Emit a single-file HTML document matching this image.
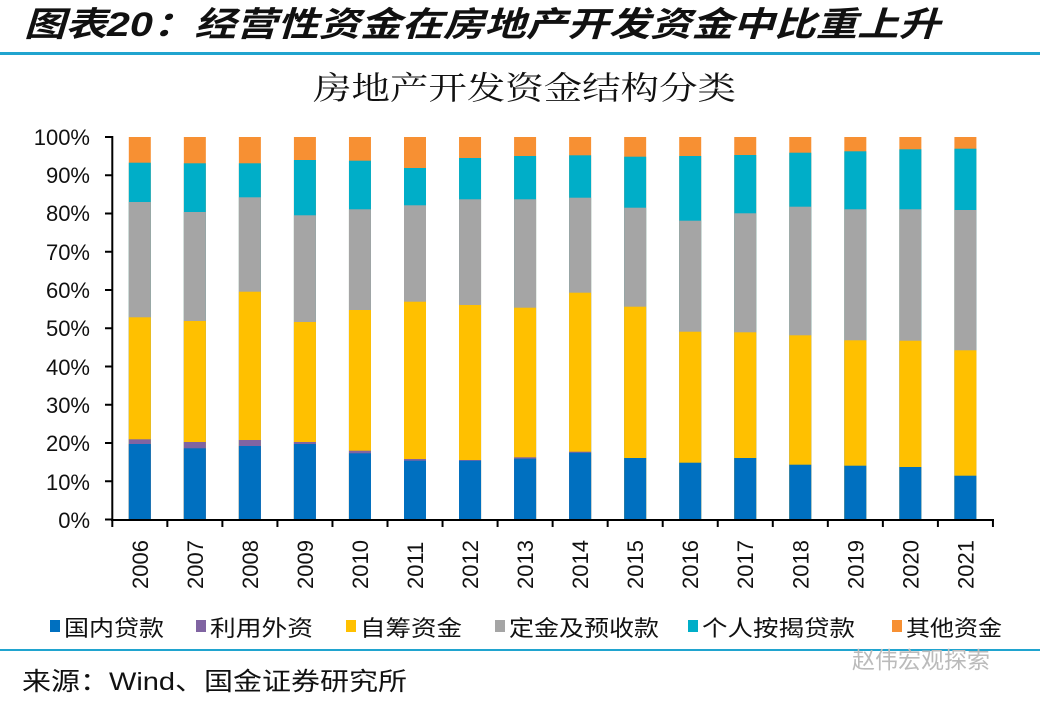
<!DOCTYPE html>
<html><head><meta charset="utf-8"><style>
html,body{margin:0;padding:0;background:#fff;}
svg{display:block;}
text{font-family:"Liberation Sans","Noto Sans CJK SC",sans-serif;}
.o{fill:#f79033}.t{fill:#00aec8}.g{fill:#a5a5a5}.y{fill:#ffc000}.p{fill:#8064a2}.b{fill:#0070c0}
</style></head><body>
<svg width="1040" height="706" xmlns="http://www.w3.org/2000/svg">
<text x="24" y="36" font-size="34" font-weight="bold" font-style="italic" fill="#111" textLength="916" lengthAdjust="spacingAndGlyphs">图表20：经营性资金在房地产开发资金中比重上升</text>
<rect x="0" y="52" width="1040" height="3" fill="#20a4cf"/>
<text x="313" y="99" font-size="32" fill="#111" textLength="423" lengthAdjust="spacingAndGlyphs" style="font-family:'Noto Serif CJK SC','Noto Sans CJK SC',serif">房地产开发资金结构分类</text>

<g>
<g transform="translate(128.8,0)"><rect class="o" y="137" width="22" height="382.5"/><rect class="t" y="162.7" width="22" height="356.8"/><rect class="g" y="202" width="22" height="317.5"/><rect class="y" y="317.3" width="22" height="202.2"/><rect class="p" y="439.3" width="22" height="80.2"/><rect class="b" y="444" width="22" height="75.5"/></g>
<g transform="translate(183.84,0)"><rect class="o" y="137" width="22" height="382.5"/><rect class="t" y="163.3" width="22" height="356.2"/><rect class="g" y="212" width="22" height="307.5"/><rect class="y" y="321" width="22" height="198.5"/><rect class="p" y="442" width="22" height="77.5"/><rect class="b" y="448.3" width="22" height="71.2"/></g>
<g transform="translate(238.88,0)"><rect class="o" y="137" width="22" height="382.5"/><rect class="t" y="163.3" width="22" height="356.2"/><rect class="g" y="197.3" width="22" height="322.2"/><rect class="y" y="291.7" width="22" height="227.8"/><rect class="p" y="440" width="22" height="79.5"/><rect class="b" y="446" width="22" height="73.5"/></g>
<g transform="translate(293.92,0)"><rect class="o" y="137" width="22" height="382.5"/><rect class="t" y="160" width="22" height="359.5"/><rect class="g" y="215.3" width="22" height="304.2"/><rect class="y" y="322" width="22" height="197.5"/><rect class="p" y="442" width="22" height="77.5"/><rect class="b" y="444" width="22" height="75.5"/></g>
<g transform="translate(348.96,0)"><rect class="o" y="137" width="22" height="382.5"/><rect class="t" y="160.7" width="22" height="358.8"/><rect class="g" y="209.3" width="22" height="310.2"/><rect class="y" y="310" width="22" height="209.5"/><rect class="p" y="450.7" width="22" height="68.8"/><rect class="b" y="453.3" width="22" height="66.2"/></g>
<g transform="translate(404,0)"><rect class="o" y="137" width="22" height="382.5"/><rect class="t" y="168" width="22" height="351.5"/><rect class="g" y="205.3" width="22" height="314.2"/><rect class="y" y="301.7" width="22" height="217.8"/><rect class="p" y="459" width="22" height="60.5"/><rect class="b" y="460.7" width="22" height="58.8"/></g>
<g transform="translate(459.04,0)"><rect class="o" y="137" width="22" height="382.5"/><rect class="t" y="158" width="22" height="361.5"/><rect class="g" y="199.3" width="22" height="320.2"/><rect class="y" y="305" width="22" height="214.5"/><rect class="p" y="460" width="22" height="59.5"/><rect class="b" y="460.7" width="22" height="58.8"/></g>
<g transform="translate(514.08,0)"><rect class="o" y="137" width="22" height="382.5"/><rect class="t" y="156" width="22" height="363.5"/><rect class="g" y="199.3" width="22" height="320.2"/><rect class="y" y="307.7" width="22" height="211.8"/><rect class="p" y="457.3" width="22" height="62.2"/><rect class="b" y="458.7" width="22" height="60.8"/></g>
<g transform="translate(569.12,0)"><rect class="o" y="137" width="22" height="382.5"/><rect class="t" y="155.3" width="22" height="364.2"/><rect class="g" y="197.7" width="22" height="321.8"/><rect class="y" y="292.7" width="22" height="226.8"/><rect class="p" y="451.7" width="22" height="67.8"/><rect class="b" y="452.7" width="22" height="66.8"/></g>
<g transform="translate(624.16,0)"><rect class="o" y="137" width="22" height="382.5"/><rect class="t" y="156.7" width="22" height="362.8"/><rect class="g" y="207.7" width="22" height="311.8"/><rect class="y" y="306.7" width="22" height="212.8"/><rect class="b" y="458" width="22" height="61.5"/></g>
<g transform="translate(679.2,0)"><rect class="o" y="137" width="22" height="382.5"/><rect class="t" y="156" width="22" height="363.5"/><rect class="g" y="220.7" width="22" height="298.8"/><rect class="y" y="331.7" width="22" height="187.8"/><rect class="b" y="462.7" width="22" height="56.8"/></g>
<g transform="translate(734.24,0)"><rect class="o" y="137" width="22" height="382.5"/><rect class="t" y="155" width="22" height="364.5"/><rect class="g" y="213.3" width="22" height="306.2"/><rect class="y" y="332.3" width="22" height="187.2"/><rect class="b" y="458" width="22" height="61.5"/></g>
<g transform="translate(789.28,0)"><rect class="o" y="137" width="22" height="382.5"/><rect class="t" y="152.7" width="22" height="366.8"/><rect class="g" y="206.7" width="22" height="312.8"/><rect class="y" y="335.3" width="22" height="184.2"/><rect class="b" y="464.7" width="22" height="54.8"/></g>
<g transform="translate(844.32,0)"><rect class="o" y="137" width="22" height="382.5"/><rect class="t" y="151.3" width="22" height="368.2"/><rect class="g" y="209.3" width="22" height="310.2"/><rect class="y" y="340.3" width="22" height="179.2"/><rect class="b" y="465.7" width="22" height="53.8"/></g>
<g transform="translate(899.36,0)"><rect class="o" y="137" width="22" height="382.5"/><rect class="t" y="149.3" width="22" height="370.2"/><rect class="g" y="209.3" width="22" height="310.2"/><rect class="y" y="340.7" width="22" height="178.8"/><rect class="b" y="467" width="22" height="52.5"/></g>
<g transform="translate(954.4,0)"><rect class="o" y="137" width="22" height="382.5"/><rect class="t" y="148.7" width="22" height="370.8"/><rect class="g" y="210" width="22" height="309.5"/><rect class="y" y="350.3" width="22" height="169.2"/><rect class="b" y="475.7" width="22" height="43.8"/></g>
</g>

<g font-size="22" fill="#111" text-anchor="end">
<text x="90" y="145">100%</text><text x="90" y="183">90%</text><text x="90" y="221">80%</text><text x="90" y="260">70%</text><text x="90" y="298">60%</text><text x="90" y="336">50%</text><text x="90" y="375">40%</text><text x="90" y="413">30%</text><text x="90" y="451">20%</text><text x="90" y="490">10%</text><text x="90" y="528">0%</text>
</g>
<g stroke="#000" stroke-width="2">
<line x1="112.3" y1="136" x2="112.3" y2="520"/><line x1="111" y1="520" x2="994" y2="520"/>
<line x1="105" y1="137" x2="112" y2="137"/><line x1="105" y1="175.25" x2="112" y2="175.25"/><line x1="105" y1="213.5" x2="112" y2="213.5"/><line x1="105" y1="251.75" x2="112" y2="251.75"/><line x1="105" y1="290" x2="112" y2="290"/><line x1="105" y1="328.25" x2="112" y2="328.25"/><line x1="105" y1="366.5" x2="112" y2="366.5"/><line x1="105" y1="404.75" x2="112" y2="404.75"/><line x1="105" y1="443" x2="112" y2="443"/><line x1="105" y1="481.25" x2="112" y2="481.25"/><line x1="105" y1="519.5" x2="112" y2="519.5"/>
<line x1="112.3" y1="520" x2="112.3" y2="527"/><line x1="167.34" y1="520" x2="167.34" y2="527"/><line x1="222.38" y1="520" x2="222.38" y2="527"/><line x1="277.42" y1="520" x2="277.42" y2="527"/><line x1="332.46" y1="520" x2="332.46" y2="527"/><line x1="387.5" y1="520" x2="387.5" y2="527"/><line x1="442.54" y1="520" x2="442.54" y2="527"/><line x1="497.58" y1="520" x2="497.58" y2="527"/><line x1="552.62" y1="520" x2="552.62" y2="527"/><line x1="607.66" y1="520" x2="607.66" y2="527"/><line x1="662.7" y1="520" x2="662.7" y2="527"/><line x1="717.74" y1="520" x2="717.74" y2="527"/><line x1="772.78" y1="520" x2="772.78" y2="527"/><line x1="827.82" y1="520" x2="827.82" y2="527"/><line x1="882.86" y1="520" x2="882.86" y2="527"/><line x1="937.9" y1="520" x2="937.9" y2="527"/><line x1="992.94" y1="520" x2="992.94" y2="527"/>
</g>
<g font-size="22" fill="#111">
<text transform="translate(147.8,589) rotate(-90)">2006</text>
<text transform="translate(202.84,589) rotate(-90)">2007</text>
<text transform="translate(257.88,589) rotate(-90)">2008</text>
<text transform="translate(312.92,589) rotate(-90)">2009</text>
<text transform="translate(367.96,589) rotate(-90)">2010</text>
<text transform="translate(423,589) rotate(-90)">2011</text>
<text transform="translate(478.04,589) rotate(-90)">2012</text>
<text transform="translate(533.08,589) rotate(-90)">2013</text>
<text transform="translate(588.12,589) rotate(-90)">2014</text>
<text transform="translate(643.16,589) rotate(-90)">2015</text>
<text transform="translate(698.2,589) rotate(-90)">2016</text>
<text transform="translate(753.24,589) rotate(-90)">2017</text>
<text transform="translate(808.28,589) rotate(-90)">2018</text>
<text transform="translate(863.32,589) rotate(-90)">2019</text>
<text transform="translate(918.36,589) rotate(-90)">2020</text>
<text transform="translate(973.4,589) rotate(-90)">2021</text>
</g>
<g font-size="22" fill="#111">
<rect x="50" y="620" width="10" height="12" fill="#0070c0"/><text x="64" y="636" textLength="100" lengthAdjust="spacingAndGlyphs">国内贷款</text>
<rect x="196" y="620" width="10" height="12" fill="#8064a2"/><text x="210" y="636" textLength="103" lengthAdjust="spacingAndGlyphs">利用外资</text>
<rect x="346" y="620" width="10" height="12" fill="#ffc000"/><text x="360" y="636" textLength="102" lengthAdjust="spacingAndGlyphs">自筹资金</text>
<rect x="495" y="620" width="10" height="12" fill="#a5a5a5"/><text x="509" y="636" textLength="150" lengthAdjust="spacingAndGlyphs">定金及预收款</text>
<rect x="688" y="620" width="10" height="12" fill="#00aec8"/><text x="702" y="636" textLength="153" lengthAdjust="spacingAndGlyphs">个人按揭贷款</text>
<rect x="892" y="620" width="10" height="12" fill="#f79033"/><text x="906" y="636" textLength="96" lengthAdjust="spacingAndGlyphs">其他资金</text>
</g>
<rect x="0" y="649" width="1040" height="2" fill="#20a4cf"/>
<text x="852" y="668" font-size="23" fill="#bbb">赵伟宏观探索</text>
<text x="22" y="690" font-size="25" fill="#111" textLength="385" lengthAdjust="spacingAndGlyphs">来源：Wind、国金证券研究所</text>
</svg>
</body></html>
